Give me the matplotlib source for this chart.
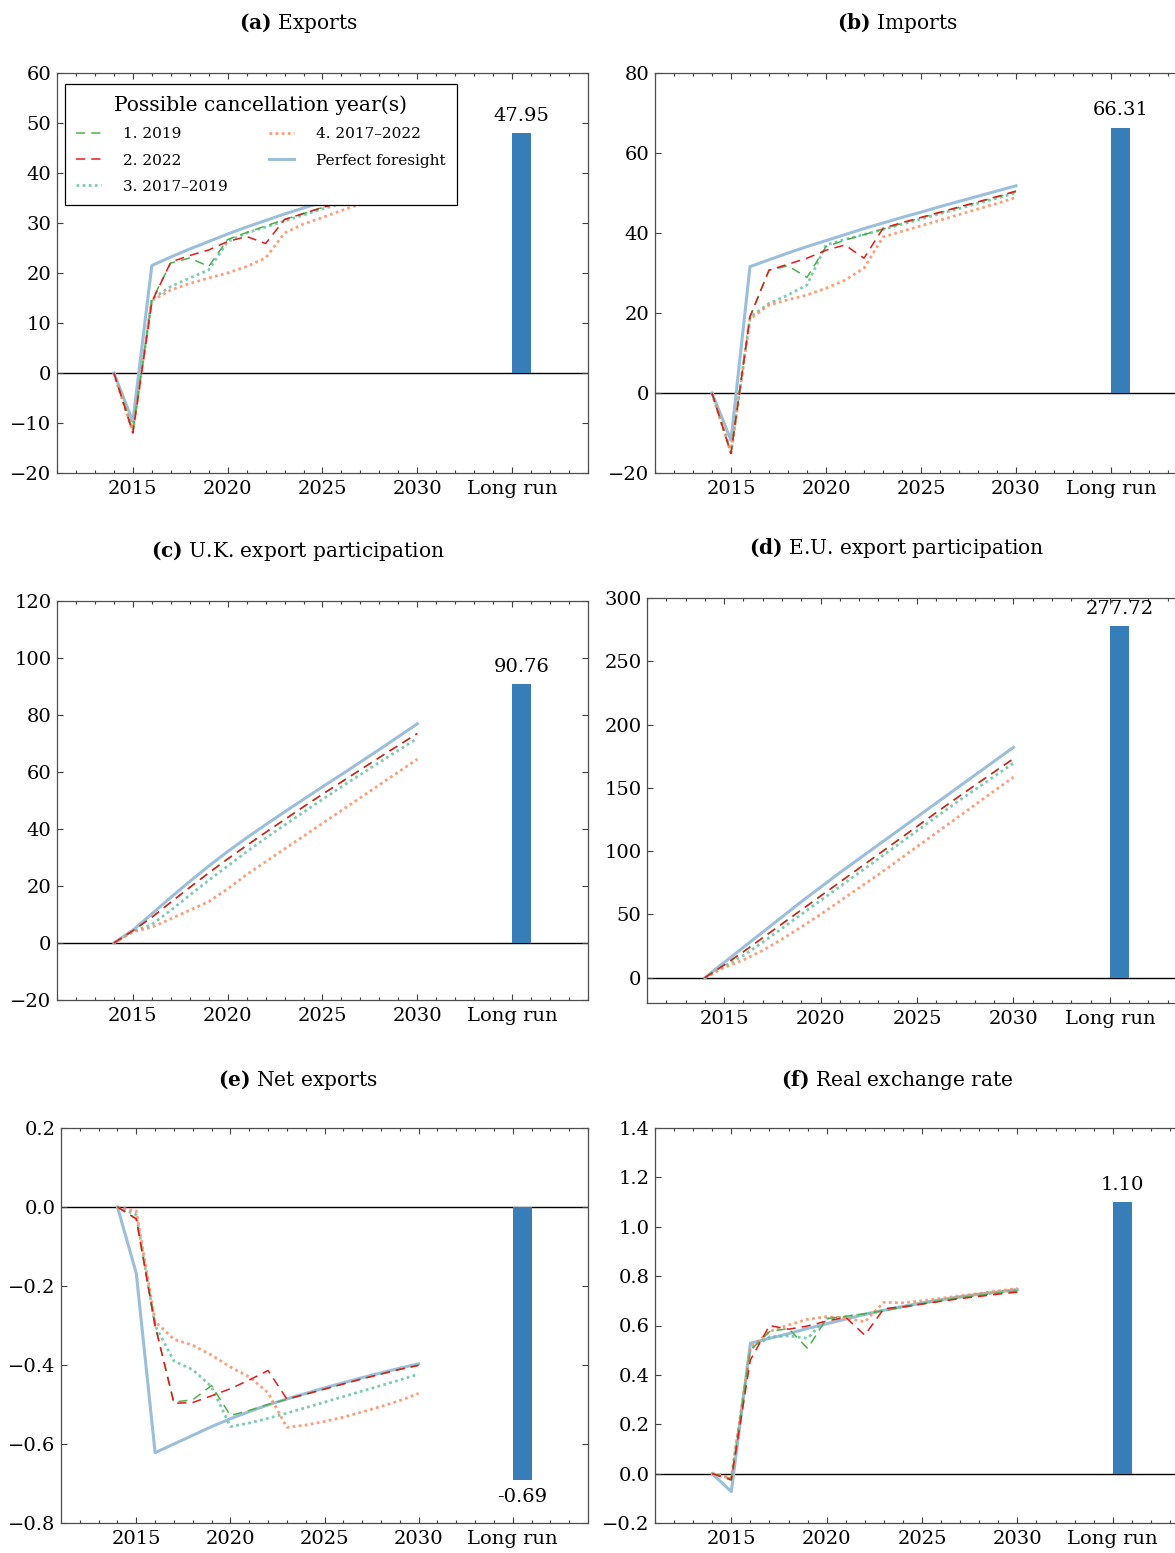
import matplotlib
matplotlib.use("Agg")
import matplotlib.pyplot as plt
from matplotlib.ticker import MultipleLocator, FixedLocator, FuncFormatter

plt.rcParams['font.family'] = ['DejaVu Serif']
plt.rcParams['mathtext.fontset'] = 'dejavuserif'

# ---------------- data ----------------
years = [2014, 2015, 2016, 2017, 2018, 2019, 2020, 2021, 2022,
         2023, 2024, 2025, 2026, 2027, 2028, 2029, 2030]
long_run_label = "Long run"
series_labels = ["1. 2019", "2. 2022", "3. 2017\u20132019", "4. 2017\u20132022", "Perfect foresight"]
panel_titles = ["(a)", "(b)", "(c)", "(d)", "(e)", "(f)"]
panel_names = ["Exports", "Imports", "U.K. export participation",
               "E.U. export participation", "Net exports", "Real exchange rate"]

# (a) Exports
exp_c2019 = [0, -11.5, 14.5, 22.0, 23.0, 21.3, 26.7, 28.1, 29.4, 30.7, 31.9, 33.1, 34.2, 35.3, 36.4, 37.4, 38.4]
exp_c2022 = [0, -12.0, 14.2, 22.2, 23.5, 24.6, 26.3, 27.3, 25.9, 30.7, 31.9, 33.1, 34.2, 35.3, 36.4, 37.4, 38.4]
exp_c1719 = [0, -11.5, 14.8, 17.3, 19.0, 20.6, 26.3, 28.0, 29.2, 30.4, 31.6, 32.8, 33.9, 35.0, 36.0, 37.0, 38.0]
exp_c1722 = [0, -11.8, 14.5, 16.6, 17.9, 19.0, 20.0, 21.3, 23.0, 28.0, 29.8, 31.1, 32.5, 33.8, 35.0, 36.2, 37.3]
exp_pf    = [0, -9.7, 21.5, 23.2, 24.8, 26.3, 27.8, 29.2, 30.5, 31.8, 33.0, 34.2, 35.3, 36.4, 37.4, 38.4, 39.3]
exp_lr = 47.95

# (b) Imports
imp_c2019 = [0, -15.0, 19.0, 30.7, 31.8, 28.9, 36.6, 38.2, 39.6, 41.0, 42.4, 43.8, 45.1, 46.4, 47.7, 49.0, 50.3]
imp_c2022 = [0, -15.1, 19.1, 30.7, 32.2, 33.7, 35.7, 37.0, 33.7, 41.2, 42.6, 43.9, 45.2, 46.5, 47.8, 49.1, 50.5]
imp_c1719 = [0, -14.8, 19.0, 22.4, 24.5, 27.0, 37.0, 38.4, 39.6, 40.9, 42.2, 43.5, 44.8, 46.1, 47.4, 48.7, 50.0]
imp_c1722 = [0, -15.0, 18.5, 22.0, 23.3, 24.5, 26.2, 28.2, 31.2, 39.0, 40.4, 41.8, 43.2, 44.6, 46.0, 47.4, 48.9]
imp_pf    = [0, -11.8, 31.6, 33.3, 35.0, 36.6, 38.1, 39.6, 41.1, 42.5, 43.9, 45.2, 46.6, 47.9, 49.2, 50.5, 51.8]
imp_lr = 66.31

# (c) U.K. export participation
ukp_c2019 = [0, 4.3, 9.0, 14.3, 19.5, 24.6, 29.5, 34.2, 38.8, 43.3, 47.8, 52.2, 56.5, 60.8, 65.1, 69.3, 73.5]
ukp_c2022 = [0, 4.3, 9.0, 14.3, 19.5, 24.6, 29.5, 34.2, 38.8, 43.3, 47.8, 52.2, 56.5, 60.8, 65.1, 69.3, 73.5]
ukp_c1719 = [0, 4.0, 6.5, 11.5, 16.8, 22.0, 27.0, 32.0, 36.8, 41.4, 45.9, 50.4, 54.8, 59.1, 63.4, 67.6, 71.8]
ukp_c1722 = [0, 4.0, 5.5, 8.5, 11.5, 14.5, 19.0, 24.0, 28.5, 33.0, 37.5, 42.0, 46.5, 51.0, 55.5, 60.0, 64.5]
ukp_pf    = [0, 4.5, 10.2, 16.0, 21.6, 27.0, 32.1, 36.9, 41.5, 46.0, 50.4, 54.8, 59.1, 63.5, 67.9, 72.4, 76.9]
ukp_lr = 90.76

# (d) E.U. export participation
eup_c2019 = [0, 10, 20.5, 31.5, 42.5, 53.5, 64.5, 75.5, 86.5, 97.5, 108.5, 119.5, 130.5, 141.3, 152.0, 162.5, 173.0]
eup_c2022 = [0, 10, 20.5, 31.5, 42.5, 53.5, 64.5, 75.5, 86.5, 97.5, 108.5, 119.5, 130.5, 141.3, 152.0, 162.5, 173.0]
eup_c1719 = [0, 9, 17.5, 28.0, 39.0, 50.0, 61.0, 72.0, 83.0, 94.0, 105.0, 116.0, 127.0, 138.0, 148.5, 159.0, 169.5]
eup_c1722 = [0, 8, 14.0, 21.5, 30.5, 40.0, 50.0, 60.5, 71.0, 81.5, 92.5, 103.5, 114.5, 125.5, 136.5, 147.5, 158.5]
eup_pf    = [0, 12, 24.0, 36.0, 48.0, 60.0, 71.5, 83.0, 94.0, 105.0, 116.0, 127.0, 138.0, 149.0, 160.0, 171.0, 182.0]
eup_lr = 277.72

# (e) Net exports
nx_c2019 = [0, -0.03, -0.30, -0.494, -0.488, -0.452, -0.528, -0.515, -0.500, -0.487, -0.474, -0.461, -0.448, -0.435, -0.423, -0.411, -0.400]
nx_c2022 = [0, -0.03, -0.30, -0.497, -0.495, -0.478, -0.460, -0.438, -0.414, -0.486, -0.474, -0.461, -0.448, -0.435, -0.423, -0.411, -0.401]
nx_c1719 = [0, -0.02, -0.30, -0.390, -0.412, -0.455, -0.556, -0.547, -0.535, -0.522, -0.508, -0.494, -0.480, -0.466, -0.452, -0.438, -0.423]
nx_c1722 = [0, -0.01, -0.29, -0.335, -0.350, -0.375, -0.405, -0.430, -0.470, -0.558, -0.552, -0.543, -0.532, -0.519, -0.505, -0.490, -0.472]
nx_pf    = [0, -0.168, -0.622, -0.600, -0.578, -0.556, -0.536, -0.518, -0.501, -0.486, -0.472, -0.458, -0.445, -0.432, -0.420, -0.408, -0.397]
nx_lr = -0.69

# (f) Real exchange rate
rer_c2019 = [0, -0.02, 0.50, 0.575, 0.588, 0.507, 0.628, 0.637, 0.648, 0.660, 0.674, 0.688, 0.700, 0.712, 0.722, 0.731, 0.740]
rer_c2022 = [0, -0.026, 0.46, 0.600, 0.585, 0.598, 0.618, 0.633, 0.561, 0.668, 0.676, 0.687, 0.698, 0.709, 0.718, 0.727, 0.735]
rer_c1719 = [0, -0.02, 0.505, 0.553, 0.558, 0.548, 0.628, 0.636, 0.646, 0.661, 0.676, 0.690, 0.703, 0.715, 0.725, 0.735, 0.745]
rer_c1722 = [0, -0.015, 0.51, 0.575, 0.602, 0.625, 0.636, 0.630, 0.615, 0.694, 0.692, 0.700, 0.710, 0.720, 0.730, 0.740, 0.750]
rer_pf    = [0, -0.073, 0.528, 0.548, 0.567, 0.588, 0.607, 0.626, 0.645, 0.662, 0.677, 0.691, 0.704, 0.716, 0.727, 0.736, 0.745]
rer_lr = 1.10

panel_data = [
    (exp_c2019, exp_c2022, exp_c1719, exp_c1722, exp_pf, exp_lr),
    (imp_c2019, imp_c2022, imp_c1719, imp_c1722, imp_pf, imp_lr),
    (ukp_c2019, ukp_c2022, ukp_c1719, ukp_c1722, ukp_pf, ukp_lr),
    (eup_c2019, eup_c2022, eup_c1719, eup_c1722, eup_pf, eup_lr),
    (nx_c2019, nx_c2022, nx_c1719, nx_c1722, nx_pf, nx_lr),
    (rer_c2019, rer_c2022, rer_c1719, rer_c1722, rer_pf, rer_lr),
]

# ---------------- layout ----------------
W, H = 1175, 1553
fig = plt.figure(figsize=(W / 100, H / 100), dpi=100)

# pixel boxes (left, right, top, bottom)
boxes = [(57, 588, 73, 473), (655, 1187, 73, 473),
         (57, 588, 601, 1000), (647, 1187, 598, 1003),
         (61, 588, 1128, 1523), (655, 1189, 1128, 1523)]
ylims = [(-20, 60), (-20, 80), (-20, 120), (-20, 300), (-0.8, 0.2), (-0.2, 1.4)]
ysteps = [10, 20, 20, 50, 0.2, 0.2]
title_pos = [(298, 23), (897, 23), (298, 551), (897, 548), (298, 1080), (897, 1080)]

LR_X = 2035
styles = [
    dict(color='#4daf4a', ls=(0, (6, 4)), lw=1.1, zorder=4),
    dict(color='#e41a1c', ls=(0, (6, 4)), lw=1.1, zorder=5),
    dict(color='#66c2a5', ls=(0, (1, 1.2)), lw=2.0, alpha=0.85, zorder=3),
    dict(color='#fc8d62', ls=(0, (1, 1.2)), lw=2.0, alpha=0.85, zorder=3),
    dict(color='#9bbedb', ls='-', lw=2.2, zorder=2),
]


def fmt_factory(dec):
    def f(v, pos):
        if dec == 0:
            s = f"{v:.0f}"
        else:
            s = f"{v:.1f}"
            if s == "-0.0":
                s = "0.0"
        return s.replace('-', '\u2212')
    return FuncFormatter(f)


for i, (box, data) in enumerate(zip(boxes, panel_data)):
    l, r, t, b = box
    ax = fig.add_axes([l / W, 1 - b / H, (r - l) / W, (b - t) / H])
    ax.axhline(0, color='black', lw=1.0, zorder=1)
    lines = []
    for s, ys, lab in zip(styles, data[:5], series_labels):
        ln, = ax.plot(years, ys, label=lab, **s)
        lines.append(ln)
    lr = data[5]
    ax.bar(LR_X, lr, width=1.0, align='edge', color='#377eb8', zorder=2)
    ax.annotate(f"{lr:.2f}", xy=(LR_X + 0.5, lr),
                xytext=(0, 6 if lr > 0 else -6), textcoords='offset points',
                ha='center', va='bottom' if lr > 0 else 'top', fontsize=14)
    ax.set_xlim(2011, 2039)
    ax.set_ylim(*ylims[i])
    ax.xaxis.set_major_locator(FixedLocator([2015, 2020, 2025, 2030, LR_X]))
    ax.set_xticklabels(['2015', '2020', '2025', '2030', long_run_label])
    ax.xaxis.set_minor_locator(MultipleLocator(1))
    ax.yaxis.set_major_locator(MultipleLocator(ysteps[i]))
    ax.yaxis.set_major_formatter(fmt_factory(0 if ysteps[i] >= 1 else 1))
    ax.tick_params(which='both', direction='in', top=True, right=True,
                   labelsize=14, color='0.25', width=0.8)
    ax.tick_params(which='major', length=4)
    ax.tick_params(which='minor', length=2)
    ax.tick_params(axis='x', pad=5)
    ax.tick_params(axis='y', pad=4)
    for sp in ax.spines.values():
        sp.set_color('0.3')
        sp.set_linewidth(0.9)
    tx, ty = title_pos[i]
    fig.text(tx / W, 1 - ty / H, r"$\mathbf{" + panel_titles[i] + "}$ " + panel_names[i],
             ha='center', va='center', fontsize=14.5)
    if i == 0:
        leg = ax.legend(handles=lines, ncol=2, loc='upper left',
                        bbox_to_anchor=(8 / 531, 1 - 11 / 400), borderaxespad=0,
                        title="Possible cancellation year(s)",
                        title_fontsize=14.6, fontsize=11, frameon=True, fancybox=False,
                        framealpha=1, edgecolor='black', handlelength=1.6,
                        handletextpad=1.45, columnspacing=2.7, labelspacing=0.8,
                        borderpad=0.75)
        leg.get_frame().set_linewidth(0.9)
        leg.set_zorder(10)

fig.savefig("out.png", dpi=100)
